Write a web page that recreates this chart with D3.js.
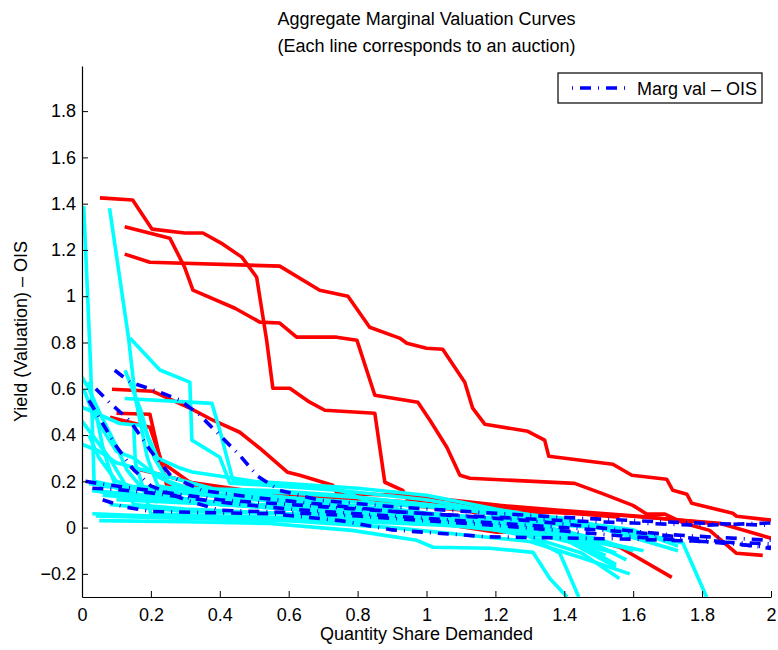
<!DOCTYPE html>
<html>
<head>
<meta charset="utf-8">
<script src="https://cdn.jsdelivr.net/npm/d3@7"></script>
<style>
  body { margin: 0; background: #fff; }
  text { font-family: "Liberation Sans", Arial, Helvetica, sans-serif; fill: #000; }
  .axis path, .axis line { stroke: #000; }
  .axis text { font-size: 18px; }
</style>
</head>
<body>
<script>
// tick values
let xTicks = [0, 0.2, 0.4, 0.6, 0.8, 1, 1.2, 1.4, 1.6, 1.8, 2];
let yTicks = [-0.2, 0, 0.2, 0.4, 0.6, 0.8, 1, 1.2, 1.4, 1.6, 1.8];

// red curves [quantity share, yield - OIS]
let redLines = [
  [[0.052,1.425],[0.147,1.416],[0.203,1.29],[0.298,1.273],[0.351,1.273],[0.409,1.225],[0.464,1.169],[0.507,1.082],[0.536,0.81],[0.554,0.602],[0.603,0.602],[0.661,0.542],[0.705,0.507],[0.85,0.494],[0.879,0.196],[0.931,0.161],[0.946,0.118],[1.024,0.127],[1.03,0.105],[1.126,0.101],[1.134,0.066],[1.343,0.066],[1.561,0.053],[1.851,0.019],[2.0,-0.046]],
  [[0.124,1.30],[0.255,1.251],[0.298,1.125],[0.322,1.026],[0.444,0.948],[0.516,0.888],[0.574,0.884],[0.623,0.823],[0.739,0.823],[0.798,0.81],[0.85,0.572],[0.975,0.542],[1.01,0.464],[1.059,0.347],[1.097,0.226],[1.126,0.213],[1.43,0.191],[1.509,0.148],[1.599,0.096],[1.64,0.058],[1.692,0.058],[1.747,0.019],[1.822,-0.012],[1.9,-0.111],[1.976,-0.12]],
  [[0.124,1.182],[0.197,1.147],[0.574,1.13],[0.69,1.026],[0.772,1.0],[0.835,0.866],[0.922,0.819],[0.943,0.797],[1.0,0.775],[1.047,0.771],[1.111,0.628],[1.134,0.516],[1.169,0.447],[1.294,0.416],[1.343,0.378],[1.355,0.308],[1.541,0.274],[1.596,0.226],[1.697,0.209],[1.715,0.161],[1.756,0.144],[1.77,0.105],[1.889,0.062],[1.9,0.049],[2.0,0.032]],
  [[0.087,0.598],[0.206,0.589],[0.313,0.516],[0.38,0.464],[0.458,0.412],[0.516,0.343],[0.597,0.239],[0.632,0.226],[0.728,0.183],[0.74,0.148],[0.922,0.14],[1.024,0.127],[1.213,0.096],[1.387,0.075],[1.619,0.049],[1.85,0.015]],
  [[0.1,0.494],[0.197,0.49],[0.226,0.3],[0.246,0.183],[0.429,0.161],[0.719,0.131],[1.01,0.105],[1.213,0.088],[1.387,0.066],[1.561,0.045]],
  [[0.139,0.261],[0.235,0.226],[0.313,0.196],[0.545,0.118],[0.739,0.075],[0.98,0.032],[1.204,-0.02],[1.387,-0.016],[1.561,-0.085],[1.712,-0.215]],
  [[0.081,0.477],[0.197,0.434],[0.232,0.282],[0.313,0.196],[0.516,0.152],[0.748,0.118],[1.01,0.088],[1.3,0.05]]
];

// cyan curves
let cyanLines = [
  [[0.005,1.39],[0.025,0.7],[0.035,0.2],[0.1,0.18],[0.3,0.17],[0.55,0.16],[0.75,0.14],[1.0,0.1],[1.2,0.07],[1.4,0.04],[1.55,-0.01],[1.62,-0.04]],
  [[0.08,1.38],[0.135,0.82],[0.155,0.56],[0.19,0.3],[0.22,0.18],[0.4,0.14],[0.6,0.12],[0.8,0.09],[1.0,0.06],[1.2,0.03],[1.4,-0.02],[1.5,-0.08],[1.58,-0.14]],
  [[0.139,0.819],[0.226,0.681],[0.313,0.629],[0.319,0.378],[0.4,0.304],[0.429,0.192],[0.535,0.183],[0.75,0.16],[1.0,0.12],[1.15,0.08],[1.3,0.04],[1.5,0.0],[1.65,-0.04]],
  [[0.124,0.558],[0.377,0.537],[0.4,0.421],[0.438,0.205],[0.574,0.179],[0.728,0.17],[0.769,0.152],[0.835,0.109],[0.931,0.075],[1.047,0.045],[1.184,0.023],[1.35,-0.01],[1.55,-0.11]],
  [[0.0,0.52],[0.11,0.45],[0.18,0.44],[0.21,0.3],[0.25,0.2],[0.35,0.15],[0.6,0.12],[0.9,0.08],[1.2,0.03],[1.4,-0.03],[1.5,-0.08]],
  [[0.0,0.65],[0.02,0.6],[0.05,0.5],[0.1,0.35],[0.13,0.25],[0.18,0.16],[0.3,0.12],[0.5,0.1],[0.8,0.08],[1.1,0.05],[1.35,0.0],[1.45,-0.06]],
  [[0.0,0.46],[0.04,0.38],[0.08,0.3],[0.12,0.2],[0.15,0.1],[0.3,0.08],[0.6,0.06],[0.9,0.04],[1.2,0.02],[1.4,-0.02],[1.5,-0.07]],
  [[0.0,0.36],[0.05,0.33],[0.1,0.28],[0.2,0.24],[0.3,0.2],[0.4,0.16],[0.6,0.13],[0.9,0.1],[1.1,0.08],[1.3,0.03],[1.42,-0.05],[1.55,-0.16]],
  [[0.005,0.6],[0.03,0.5],[0.07,0.4],[0.1,0.33],[0.15,0.3],[0.22,0.22],[0.3,0.16],[0.5,0.1],[0.8,0.07],[1.0,0.04],[1.3,0.0],[1.45,-0.04]],
  [[0.03,0.06],[0.3,0.045],[0.6,0.03],[0.9,0.02],[1.2,0.0],[1.4,-0.04],[1.55,-0.08],[1.6,-0.09]],
  [[0.05,0.03],[0.3,0.025],[0.545,0.018],[0.783,-0.012],[0.972,-0.055],[1.019,-0.085],[1.184,-0.089],[1.309,-0.107],[1.358,-0.22],[1.408,-0.3]],
  [[0.03,0.16],[0.1,0.15],[0.3,0.12],[0.6,0.08],[0.8,0.05],[1.0,0.03],[1.2,0.0],[1.3,-0.04],[1.387,-0.111],[1.442,-0.3]],
  [[0.05,0.18],[0.2,0.16],[0.5,0.12],[0.8,0.08],[1.0,0.06],[1.2,0.04],[1.4,0.02],[1.6,-0.02],[1.744,-0.067],[1.813,-0.3]],
  [[0.02,0.4],[0.05,0.3],[0.1,0.2],[0.2,0.15],[0.4,0.1],[0.7,0.07],[1.0,0.04],[1.2,0.0],[1.35,-0.04],[1.55,-0.11]],
  [[0.03,0.16],[0.2,0.12],[0.5,0.09],[0.8,0.06],[1.1,0.02],[1.3,-0.04],[1.45,-0.11],[1.56,-0.22]],
  [[0.04,0.05],[0.3,0.04],[0.6,0.03],[0.9,0.0],[1.1,-0.03],[1.3,-0.06],[1.45,-0.13],[1.59,-0.2]],
  [[0.1,0.12],[0.4,0.1],[0.7,0.08],[1.0,0.05],[1.2,0.02],[1.4,-0.05],[1.55,-0.17]],
  [[0.06,0.14],[0.3,0.11],[0.6,0.09],[0.9,0.07],[1.2,0.03],[1.4,-0.02],[1.5,-0.06],[1.63,-0.1]],
  [[0.08,0.1],[0.3,0.07],[0.6,0.06],[0.9,0.05],[1.2,0.03],[1.5,0.0],[1.73,-0.1]],
  [[0.02,0.19],[0.15,0.17],[0.4,0.16],[0.6,0.15],[0.8,0.13],[1.0,0.1],[1.2,0.06],[1.4,0.03],[1.6,-0.01],[1.73,-0.08]],
  [[0.02,0.63],[0.04,0.5],[0.06,0.35],[0.08,0.25],[0.1,0.17],[0.2,0.13],[0.4,0.1],[0.7,0.08],[1.0,0.05],[1.3,0.02],[1.5,-0.05],[1.6,-0.1]],
  [[0.15,0.44],[0.155,0.28],[0.2,0.06],[0.4,0.05],[0.7,0.04],[1.0,0.02],[1.2,-0.01],[1.4,-0.05],[1.52,-0.12]],
  [[0.125,0.68],[0.17,0.51],[0.19,0.4],[0.22,0.3],[0.28,0.26],[0.32,0.24],[0.5,0.2],[0.8,0.17],[1.0,0.14],[1.2,0.08],[1.4,0.03],[1.6,-0.02],[1.7,-0.05]]
];

// blue dash-dot curves (Marg val - OIS)
let blueLines = [
  [[0.095,0.68],[0.139,0.629],[0.226,0.585],[0.284,0.551],[0.342,0.486],[0.4,0.399],[0.458,0.312],[0.51,0.222],[0.574,0.161],[0.69,0.118],[0.922,0.088],[1.155,0.066],[1.387,0.045],[1.677,0.025],[2.0,0.01]],
  [[0.04,0.6],[0.08,0.54],[0.14,0.46],[0.2,0.33],[0.26,0.22],[0.35,0.16],[0.5,0.13],[0.7,0.1],[0.9,0.07],[1.1,0.05],[1.3,0.03],[1.5,0.0],[1.7,-0.03],[2.0,-0.055]],
  [[0.03,0.17],[0.1,0.165],[0.2,0.15],[0.3,0.13],[0.4,0.11],[0.6,0.08],[0.8,0.06],[1.0,0.04],[1.2,0.02],[1.4,0.0],[1.6,-0.02],[1.8,-0.05],[2.0,-0.09]],
  [[0.06,0.12],[0.12,0.09],[0.2,0.07],[0.35,0.065],[0.55,0.06],[0.75,0.03],[0.9,-0.01],[1.18,-0.04],[1.4,-0.045],[1.6,-0.05],[1.8,-0.06],[2.0,-0.07]],
  [[0.02,0.55],[0.06,0.45],[0.1,0.35],[0.15,0.25],[0.2,0.18],[0.3,0.12],[0.4,0.075],[0.6,0.065],[0.8,0.05],[1.0,0.03],[1.2,0.01],[1.4,-0.015],[1.6,-0.04],[1.8,-0.06],[2.0,-0.085]],
  [[0.01,0.2],[0.05,0.19],[0.15,0.17],[0.25,0.15],[0.4,0.12],[0.6,0.1],[0.8,0.08],[1.0,0.06],[1.2,0.045],[1.4,0.03],[1.6,0.02],[1.8,0.01],[2.0,0.02]]
];

/*
 * Draw the valuation curves
 */
let drawChart = function() {
  const width = 778;
  const height = 650;

  const margin = { top: 66, bottom: 53, left: 82, right: 7 };
  const plotWidth = width - margin.left - margin.right;
  const plotHeight = height - margin.top - margin.bottom;

  let svg = d3.select("body").append("svg")
    .attr("width", width)
    .attr("height", height);

  let xScale = d3.scaleLinear().domain([0, 2]).range([0, plotWidth]);
  let yScale = d3.scaleLinear().domain([-0.3, 1.995]).range([plotHeight, 0]);

  let fmt = function(d) {
    let s = String(Math.round(d * 10) / 10);
    return s.replace("-", "\u2212");
  };

  const plot = svg.append("g").attr("id", "plot")
    .attr("transform", translate(margin.left, margin.top));

  plot.append("clipPath").attr("id", "clip")
    .append("rect")
    .attr("width", plotWidth)
    .attr("height", plotHeight);

  let line = d3.line()
    .x(d => xScale(d[0]))
    .y(d => yScale(d[1]));

  let lines = plot.append("g").attr("clip-path", "url(#clip)");

  lines.selectAll("path.red").data(redLines).enter()
    .append("path").attr("class", "red")
    .attr("d", line)
    .attr("fill", "none")
    .attr("stroke", "#ff0000")
    .attr("stroke-width", 3.6)
    .attr("stroke-linejoin", "round");

  lines.selectAll("path.cyan").data(cyanLines).enter()
    .append("path").attr("class", "cyan")
    .attr("d", line)
    .attr("fill", "none")
    .attr("stroke", "#00ffff")
    .attr("stroke-width", 3.6)
    .attr("stroke-linejoin", "round");

  lines.selectAll("path.blue").data(blueLines).enter()
    .append("path").attr("class", "blue")
    .attr("d", line)
    .attr("fill", "none")
    .attr("stroke", "#0000ff")
    .attr("stroke-width", 3.6)
    .attr("stroke-dasharray", "11 7 1 7");

  // axes, ticks pointing inward like matlab
  let xAxis = d3.axisBottom(xScale).tickValues(xTicks).tickFormat(fmt)
    .tickSizeInner(-6).tickSizeOuter(0).tickPadding(11);
  let yAxis = d3.axisLeft(yScale).tickValues(yTicks).tickFormat(fmt)
    .tickSizeInner(-6).tickSizeOuter(0).tickPadding(6);

  plot.append("g").attr("class", "axis")
    .attr("transform", translate(0, plotHeight))
    .call(xAxis);

  plot.append("g").attr("class", "axis")
    .call(yAxis);

  plot.selectAll(".axis .domain").attr("stroke-width", 1.2);

  // titles
  const xMiddle = margin.left + midpoint(xScale.range());
  const yMiddle = margin.top + midpoint(yScale.range());

  svg.append("text")
    .attr("x", xMiddle).attr("y", 25)
    .attr("text-anchor", "middle")
    .style("font-size", "18px")
    .text("Aggregate Marginal Valuation Curves");

  svg.append("text")
    .attr("x", xMiddle).attr("y", 52)
    .attr("text-anchor", "middle")
    .style("font-size", "18px")
    .text("(Each line corresponds to an auction)");

  svg.append("text")
    .attr("x", xMiddle).attr("y", 640)
    .attr("text-anchor", "middle")
    .style("font-size", "18px")
    .text("Quantity Share Demanded");

  svg.append("g")
    .attr("transform", translate(27, yMiddle))
    .append("text")
    .attr("transform", "rotate(-90)")
    .attr("text-anchor", "middle")
    .style("font-size", "18px")
    .text("Yield (Valuation) \u2013 OIS");

  // legend
  const legend = svg.append("g").attr("transform", translate(558, 73));
  legend.append("rect")
    .attr("width", 204).attr("height", 30)
    .attr("fill", "#fff")
    .attr("stroke", "#000")
    .attr("stroke-width", 1.2);
  legend.append("line")
    .attr("x1", 14).attr("x2", 69)
    .attr("y1", 15).attr("y2", 15)
    .attr("stroke", "#0000ff")
    .attr("stroke-width", 3.6)
    .attr("stroke-dasharray", "1 7 11 7");
  legend.append("text")
    .attr("x", 79).attr("y", 22)
    .style("font-size", "18px")
    .text("Marg val \u2013 OIS");
};

drawChart();

/*
 * calculates the midpoint of a range given as a 2 element array
 */
function midpoint(range) {
  return range[0] + (range[1] - range[0]) / 2.0;
}

/*
 * returns a translate string for the transform attribute
 */
function translate(x, y) {
  return 'translate(' + String(x) + ',' + String(y) + ')';
}
</script>
</body>
</html>
